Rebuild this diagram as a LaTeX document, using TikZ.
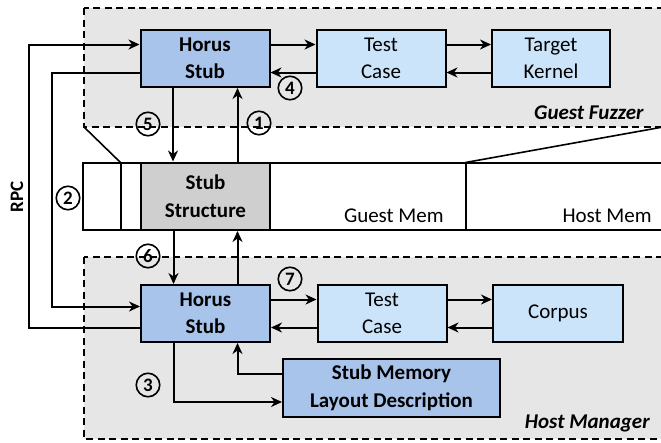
\documentclass[tikz,border=0pt]{standalone}
\usepackage{fontspec}
\setmainfont{Carlito}
\usepackage{tikz}
\usetikzlibrary{arrows.meta}

\definecolor{stubblue}{HTML}{A9C4EB}
\definecolor{caseblue}{HTML}{CCE4FA}
\definecolor{zonegrey}{HTML}{E6E6E6}
\definecolor{structgrey}{HTML}{CFCFCF}

\begin{document}
\begin{tikzpicture}[x=1pt, y=-1pt, line width=2pt,
    every node/.style={font=\fontsize{21}{27.5}\selectfont, align=center},
    block/.style={rectangle, draw, line width=2pt, minimum width=129pt, minimum height=57pt, inner sep=0pt},
    num/.style={circle, draw, line width=1.6pt, minimum size=23.5pt, inner sep=0pt, font=\bfseries\fontsize{19}{19}\selectfont},
    zone/.style={draw, dash pattern=on 7pt off 4.5pt, fill=zonegrey, line width=1.8pt},
    flow/.style={-{Stealth[length=11pt, width=10pt, inset=3.5pt]}, line width=2pt}]
    \useasboundingbox (0,0) rectangle (661,442);

    % Guest and host areas
    \draw[zone] (84,8) rectangle (663,127);
    \draw[zone] (84,257) rectangle (663,439);

    % Memory bar
    \draw (83,162.5) rectangle (672,230);
    \draw (120.5,162.5) -- (120.5,230);
    \draw (465.5,162.5) -- (465.5,230);
    \draw[line width=1.6pt] (84,127) -- (120.5,162.5);
    \draw[line width=1.6pt] (663,127) -- (465.5,162.5);
    \node[rectangle, draw, fill=structgrey, line width=2pt, minimum width=129pt, minimum height=67.5pt, inner sep=0pt, font=\bfseries\fontsize{21}{27.5}\selectfont] (STRUCT) at (205.5,196.25) {Stub\\[1pt]Structure};
    \node[anchor=base east] (GMEM) at (448,222) {Guest Mem};
    \node[anchor=base east] (HMEM) at (656,222) {Host Mem};

    % Guest fuzzer
    \node[block, fill=stubblue, font=\bfseries\fontsize{21}{27.5}\selectfont] (STUBG) at (205,58.5) {Horus\\Stub};
    \node[block, fill=caseblue] (CASEG) at (381,58.5) {Test\\Case};
    \node[block, fill=caseblue, minimum width=118pt] (KERNEL) at (551,58.5) {Target\\Kernel};
    \node[anchor=east, font=\bfseries\itshape\fontsize{21}{27.5}\selectfont] (GFUZZ) at (648,113) {Guest Fuzzer};

    % Host manager
    \node[block, fill=stubblue, font=\bfseries\fontsize{21}{27.5}\selectfont] (STUBH) at (205.5,313.5) {Horus\\Stub};
    \node[block, fill=caseblue] (CASEH) at (382,313.5) {Test\\Case};
    \node[block, fill=caseblue, minimum width=130pt] (CORPUS) at (558,313.5) {Corpus};
    \node[block, fill=stubblue, minimum width=217pt, minimum height=58pt, font=\bfseries\fontsize{21}{27.5}\selectfont] (LAYOUT) at (391.5,388) {Stub Memory\\Layout Description};
    \node[anchor=east, font=\bfseries\itshape\fontsize{21}{27.5}\selectfont] (HMAN) at (654,423) {Host Manager};

    % Guest side flows
    \draw[flow] ([yshift=14pt]STUBG.east) -- ([yshift=14pt]CASEG.west);
    \draw[flow] ([yshift=-14pt]CASEG.west) -- ([yshift=-14pt]STUBG.east);
    \draw[flow] ([yshift=14pt]CASEG.east) -- ([yshift=14pt]KERNEL.west);
    \draw[flow] ([yshift=-14pt]KERNEL.west) -- ([yshift=-14pt]CASEG.east);

    % Stub structure access
    \draw[flow] ([xshift=-32pt]STUBG.south) -- ([xshift=-32pt]STUBG.south |- STRUCT.north);
    \draw[flow] ([xshift=32pt]STRUCT.north) -- ([xshift=32pt]STRUCT.north |- STUBG.south);
    \draw[flow] ([xshift=-32pt]STRUCT.south) -- ([xshift=-32pt]STRUCT.south |- STUBH.north);
    \draw[flow] ([xshift=32pt]STUBH.north) -- ([xshift=32pt]STUBH.north |- STRUCT.south);

    % RPC
    \draw[flow] ([yshift=-14pt]STUBH.west) -- ++(-111,0) |- ([yshift=14pt]STUBG.west);
    \draw[flow] ([yshift=-14pt]STUBG.west) -- ++(-88,0) |- ([yshift=7pt]STUBH.west);
    \node[rotate=90, font=\bfseries\fontsize{19}{19}\selectfont] (RPC) at (17,197) {RPC};

    % Host side flows
    \draw[flow] ([yshift=14pt]STUBH.east) -- ([yshift=14pt]CASEH.west);
    \draw[flow] ([yshift=-14pt]CASEH.west) -- ([yshift=-14pt]STUBH.east);
    \draw[flow] ([yshift=14pt]CASEH.east) -- ([yshift=14pt]CORPUS.west);
    \draw[flow] ([yshift=-14pt]CORPUS.west) -- ([yshift=-14pt]CASEH.east);
    \draw[flow] ([xshift=-32pt]STUBH.south) |- ([yshift=-14pt]LAYOUT.west);
    \draw[flow] ([yshift=14pt]LAYOUT.west) -| ([xshift=32pt]STUBH.south);

    % Step numbers
    \node[num] (N1) at (259,123) {1};
    \node[num] (N2) at (68,198) {2};
    \node[num] (N3) at (148,385) {3};
    \node[num] (N4) at (290,88) {4};
    \node[num] (N5) at (148,124) {5};
    \node[num] (N6) at (148,256) {6};
    \node[num] (N7) at (290,279) {7};
\end{tikzpicture}
\end{document}
